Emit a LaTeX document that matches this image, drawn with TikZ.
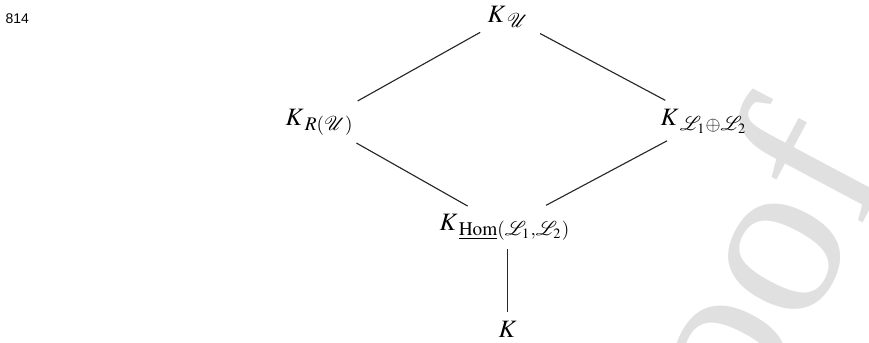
\documentclass[tikz,border=0pt]{standalone}
\usepackage{mathptmx}
\usepackage{mathrsfs}
\usepackage[no-math]{fontspec}
\setmainfont{Liberation Serif}
\newfontfamily\labelsans{Liberation Sans}
\newcommand{\Ksub}[1]{K\kern0.5pt_{\mbox{\fontsize{7.7}{9}\selectfont$#1$}}}
\begin{document}
\begin{tikzpicture}[x=0.4pt,y=-0.4pt,
  lbl/.style={inner sep=0pt, anchor=base west, font=\fontsize{10}{12}\selectfont},
  edge/.style={line width=0.45pt, black!85}]
\useasboundingbox (0,0) rectangle (869,342);
\node[rotate=62, anchor=base, text=gray!24, font=\fontsize{92}{92}\selectfont, inner sep=0pt] (wm) at (822,299) {oof};
\node[anchor=base west, inner sep=0pt, font=\labelsans\fontsize{5.6}{6}\selectfont] (num) at (5,23) {814};
\node[lbl] (top) at (487,22) {$\Ksub{\mathscr{U}}$};
\node[lbl] (R) at (285,125) {$\Ksub{R(\mathscr{U})}$};
\node[lbl] (L) at (660,125) {$\Ksub{\mathscr{L}_1{\oplus}\mathscr{L}_2}$};
\node[lbl] (hom) at (439,230) {$\Ksub{\underline{\mathrm{Hom}}(\mathscr{L}_1{,}\mathscr{L}_2)}$};
\node[lbl] (bot) at (498,337) {$K$};
\draw[edge, shorten <=12.9pt, shorten >=17.4pt] (top.center) -- (R.center);
\draw[edge, shorten <=14.4pt, shorten >=17.6pt] (top.center) -- (L.center);
\draw[edge, shorten <=16.9pt, shorten >=17.2pt] (R.center) -- (hom.center);
\draw[edge, shorten <=16.8pt, shorten >=18.6pt] (L.center) -- (hom.center);
\draw[edge, shorten <=8.8pt, shorten >=6.6pt] (hom.center -| bot.center) -- (bot.center);
\end{tikzpicture}
\end{document}
